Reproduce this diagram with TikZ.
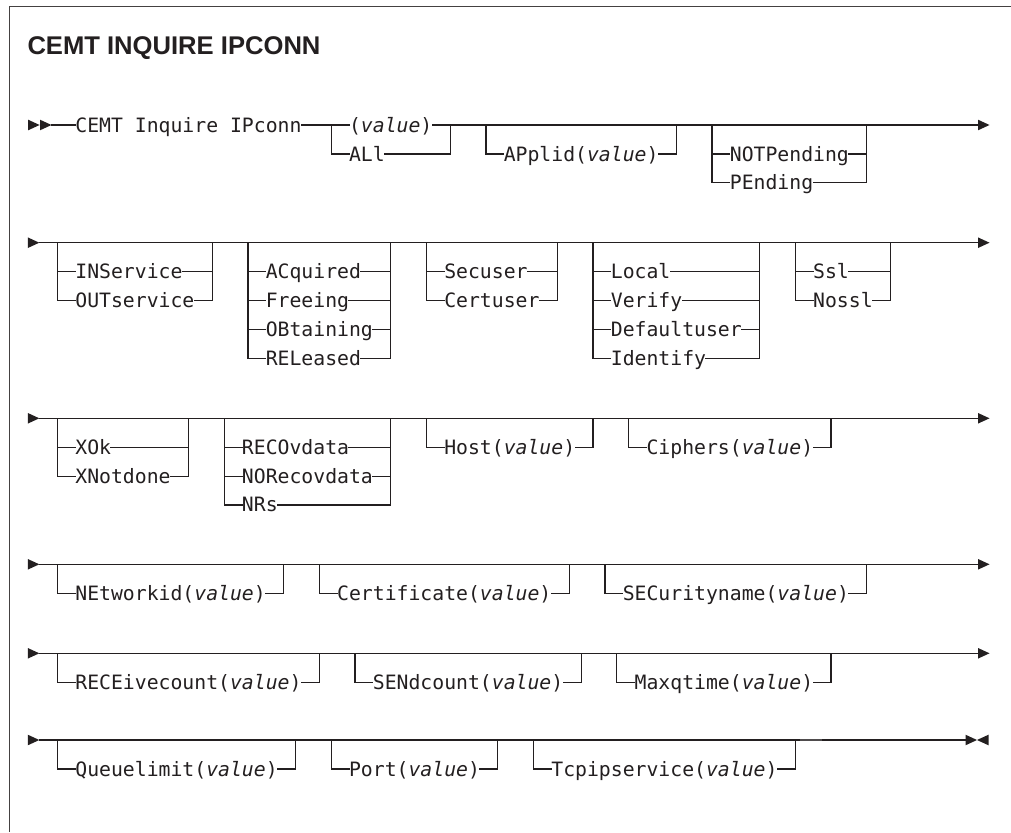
\documentclass[tikz,border=0pt]{standalone}
\usepackage{fontspec}
\setmonofont{DejaVu Sans Mono}
\newfontfamily\titlefont{Liberation Sans}
\definecolor{ink}{RGB}{35,31,32}
\tikzset{
  rail/.style={line width=1.2pt, draw=ink, line cap=rect},
  lbl/.style={anchor=base west, inner sep=0pt, outer sep=0pt, text=ink,
    font=\ttfamily\fontsize{19.77}{24}\selectfont},
  ttl/.style={anchor=base west, inner sep=0pt, outer sep=0pt, text=ink,
    font=\titlefont\bfseries\fontsize{25.6}{30}\selectfont},
  frm/.style={line width=1.5pt, draw=ink!85},
}
% option: name, left col, right col, y, text
\newcommand\opt[5]{%
  \node[lbl] (#1) at ({33.7+11.9*(#2+1.5)},{#4+7}) {#5};
  \coordinate (#1-l) at ({33.7+11.9*(#2)},#4);
  \coordinate (#1-r) at ({33.7+11.9*(#3)},#4);
  \draw[rail] (#1-l) -- (#1-l -| #1.west);
  \draw[rail] (#1-r -| #1.east) -- (#1-r);
}
% group verticals: row coordinate, last option name
\newcommand\grp[2]{%
  \draw[rail] (#2-l |- #1) -- (#2-l);
  \draw[rail] (#2-r |- #1) -- (#2-r);
}
\newcommand\rtri[1]{\fill[ink] (#1) -- ++(-11.5,5.3) -- ++(0,-10.6) -- cycle;}
\newcommand\ltri[1]{\fill[ink] (#1) -- ++(11.5,5.3) -- ++(0,-10.6) -- cycle;}
% row with left arrow, line, right arrow
\newcommand\railrow[2]{%
  \coordinate (#1) at (0,#2);
  \coordinate (#1a) at (39.3,#2);
  \coordinate (#1e) at (978,#2);
  \coordinate (#1t) at (989.5,#2);
  \rtri{#1a}
  \draw[rail] (#1a) -- (#1e);
  \rtri{#1t}
}
\begin{document}
\begin{tikzpicture}[x=1pt,y=-1pt]
\useasboundingbox (0,0) rectangle (1011,832);
\fill[white] (0,0) rectangle (1011,832);
% frame
\coordinate (f1) at (1011,6.7);
\coordinate (f2) at (9.3,6.7);
\coordinate (f3) at (9.3,832);
\draw[frm] (f1) -- (f2) -- (f3);
% title
\node[ttl] (title) at (27.5,55) {CEMT INQUIRE IPCONN};

% ---------- row 1
\coordinate (r1) at (0,125);
\coordinate (r1a) at (39.6,125);
\coordinate (r1s) at (51.5,125);
\coordinate (r1e) at (978,125);
\coordinate (r1t) at (989.5,125);
\rtri{r1a}
\rtri{r1s}
\node[lbl] (cemt) at ({33.7+11.9*3.5},132) {CEMT Inquire IPconn};
\node[lbl] (val) at ({33.7+11.9*26.5},132) {(\textit{value})};
\draw[rail] (r1s) -- (r1s -| cemt.west);
\draw[rail] (cemt.east |- r1) -- (val.west |- r1);
\draw[rail] (val.east |- r1) -- (r1e);
\rtri{r1t}
\opt{all}{25}{35}{154}{ALl}
\grp{r1}{all}
\opt{applid}{38}{54}{154}{APplid(\textit{value})}
\grp{r1}{applid}
\opt{notp}{57}{70}{154}{NOTPending}
\opt{pend}{57}{70}{182.8}{PEnding}
\grp{r1}{pend}

% ---------- row 2
\railrow{r2}{242.7}
\opt{insv}{2}{15}{271.7}{INService}
\opt{outsv}{2}{15}{300.5}{OUTservice}
\grp{r2}{outsv}
\opt{acq}{18}{30}{271.7}{ACquired}
\opt{free}{18}{30}{300.5}{Freeing}
\opt{obt}{18}{30}{329.3}{OBtaining}
\opt{rel}{18}{30}{358.1}{RELeased}
\grp{r2}{rel}
\opt{secu}{33}{44}{271.7}{Secuser}
\opt{cert}{33}{44}{300.5}{Certuser}
\grp{r2}{cert}
\opt{loc}{47}{61}{271.7}{Local}
\opt{ver}{47}{61}{300.5}{Verify}
\opt{defu}{47}{61}{329.3}{Defaultuser}
\opt{ident}{47}{61}{358.1}{Identify}
\grp{r2}{ident}
\opt{ssl}{64}{72}{271.7}{Ssl}
\opt{nossl}{64}{72}{300.5}{Nossl}
\grp{r2}{nossl}

% ---------- row 3
\railrow{r3}{418.3}
\opt{xok}{2}{13}{447.3}{XOk}
\opt{xnot}{2}{13}{476.1}{XNotdone}
\grp{r3}{xnot}
\opt{recov}{16}{30}{447.3}{RECOvdata}
\opt{norec}{16}{30}{476.1}{NORecovdata}
\opt{nrs}{16}{30}{504.9}{NRs}
\grp{r3}{nrs}
\opt{host}{33}{47}{447.3}{Host(\textit{value})}
\grp{r3}{host}
\opt{ciph}{50}{67}{447.3}{Ciphers(\textit{value})}
\grp{r3}{ciph}

% ---------- row 4
\railrow{r4}{564.3}
\opt{netw}{2}{21}{593.3}{NEtworkid(\textit{value})}
\grp{r4}{netw}
\opt{certif}{24}{45}{593.3}{Certificate(\textit{value})}
\grp{r4}{certif}
\opt{secn}{48}{70}{593.3}{SECurityname(\textit{value})}
\grp{r4}{secn}

% ---------- row 5
\railrow{r5}{653.3}
\opt{recv}{2}{24}{682.3}{RECEivecount(\textit{value})}
\grp{r5}{recv}
\opt{send}{27}{46}{682.3}{SENdcount(\textit{value})}
\grp{r5}{send}
\opt{maxq}{49}{67}{682.3}{Maxqtime(\textit{value})}
\grp{r5}{maxq}

% ---------- row 6
\coordinate (r6) at (0,740);
\coordinate (r6a) at (39.3,740);
\coordinate (r6e) at (965.5,740);
\coordinate (r6t) at (977,740);
\rtri{r6a}
\draw[rail] (r6a) -- (r6e);
\rtri{r6t}
\ltri{r6t}
\coordinate (d1) at (800,739.5);
\coordinate (d2) at (822,739.5);
\draw[line width=2pt, draw=ink!80] (d1) -- (d2);
\opt{queue}{2}{22}{769}{Queuelimit(\textit{value})}
\grp{r6}{queue}
\opt{port}{25}{39}{769}{Port(\textit{value})}
\grp{r6}{port}
\opt{tcp}{42}{64}{769}{Tcpipservice(\textit{value})}
\grp{r6}{tcp}
\end{tikzpicture}
\end{document}
